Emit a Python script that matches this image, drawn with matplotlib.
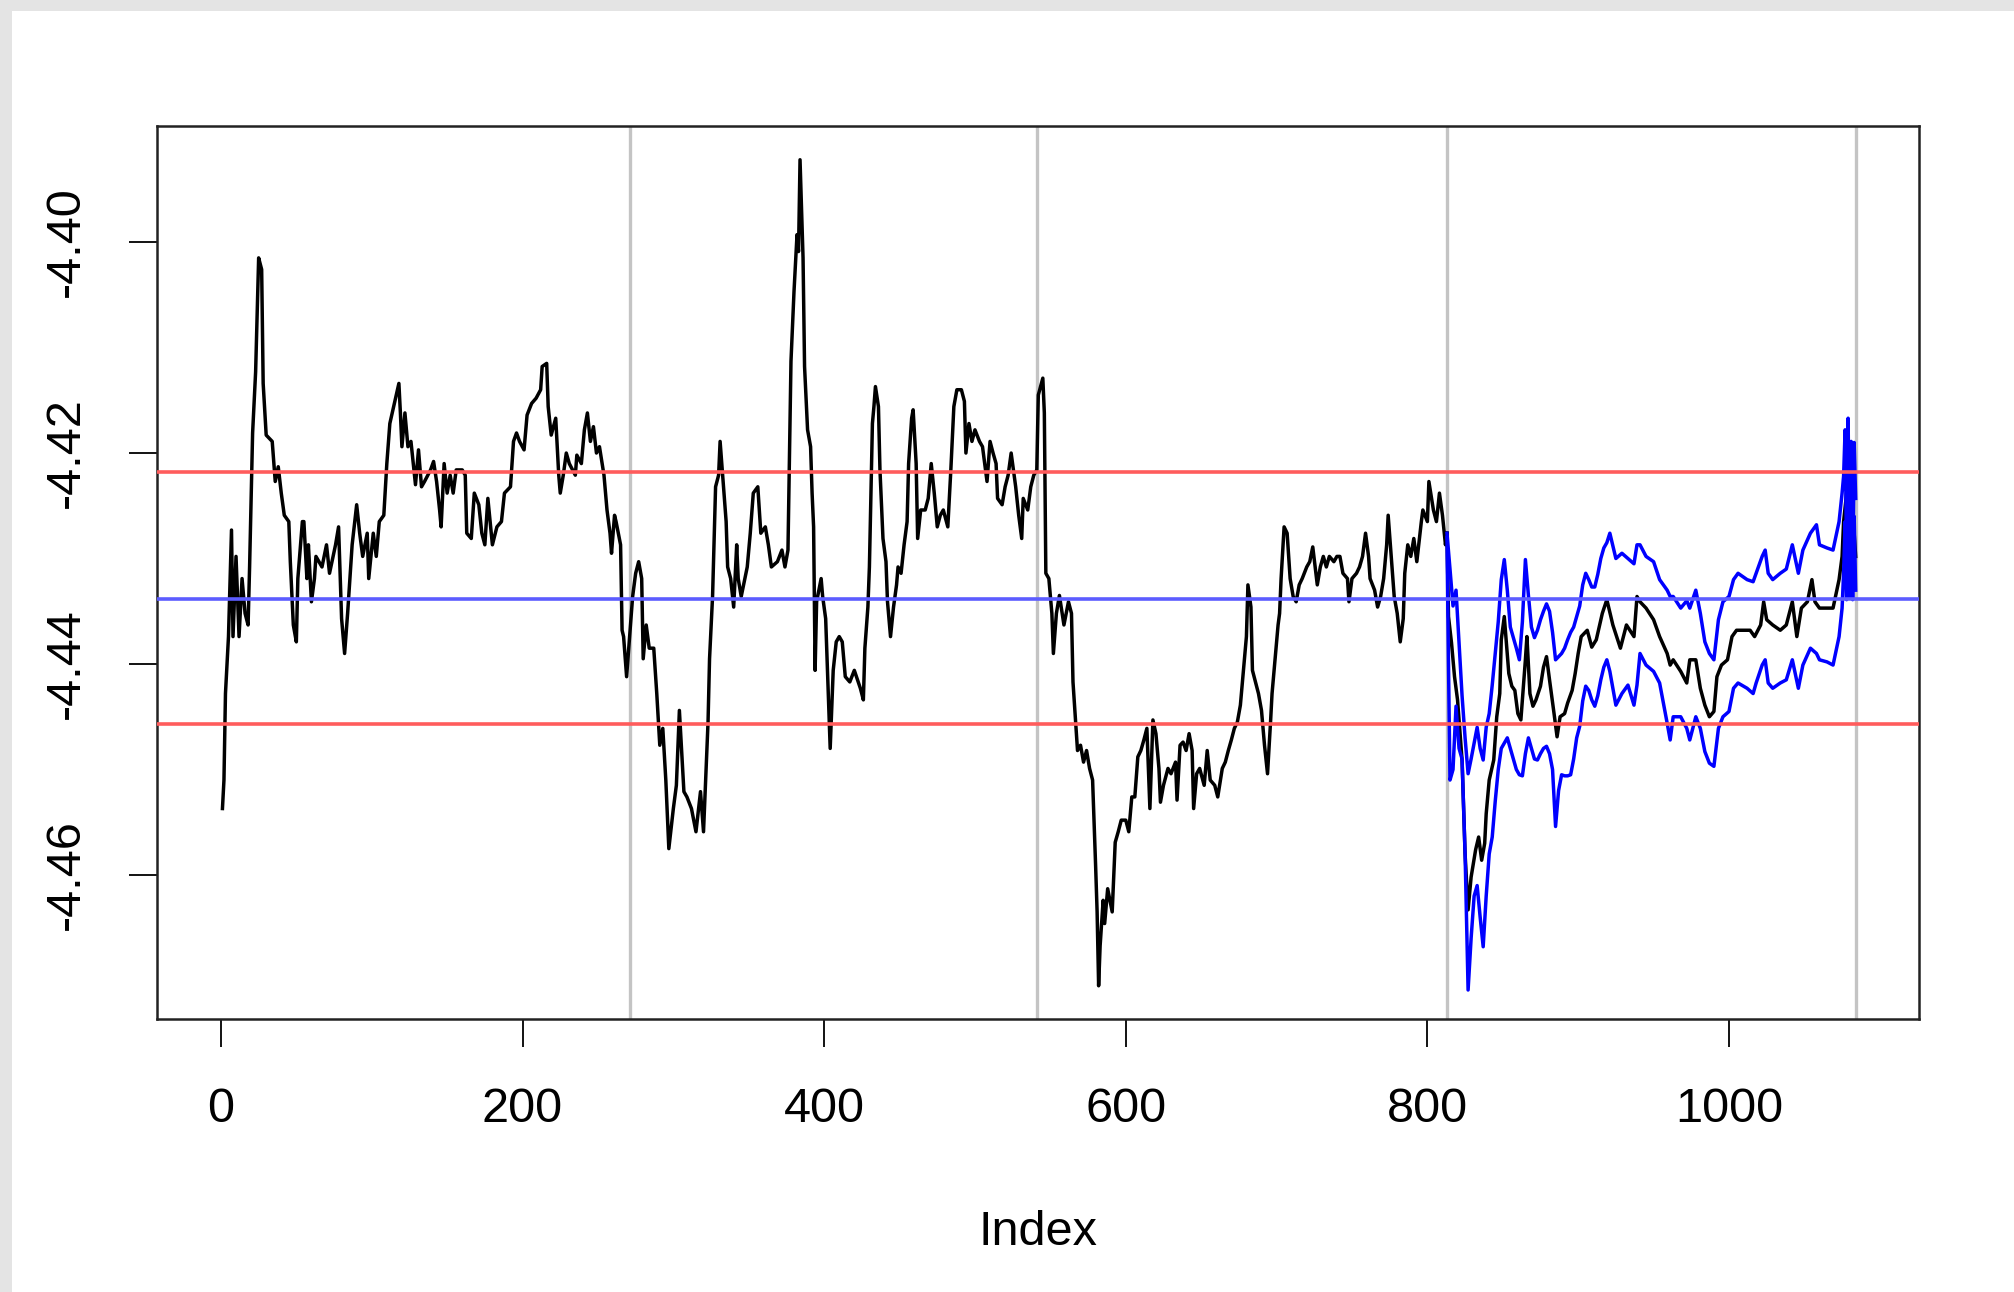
import numpy as np
import matplotlib
matplotlib.use("Agg")
import matplotlib.pyplot as plt
from matplotlib.patches import Rectangle

plt.rcParams['font.family'] = ['Liberation Sans', 'DejaVu Sans']
plt.rcParams['axes.unicode_minus'] = False

obs_points = [
    (1, -4.4537), (2, -4.4510), (3, -4.4428), (5, -4.4374), (7, -4.4273), (8, -4.4374),
    (10, -4.4298), (12, -4.4374), (14, -4.4319), (16, -4.4352), (18, -4.4363), (19, -4.4308),
    (21, -4.4181), (23, -4.4123), (25, -4.4015), (27, -4.4026), (28, -4.4134), (30, -4.4183),
    (34, -4.4189), (36, -4.4227), (38, -4.4213), (40, -4.4238), (42, -4.4259), (45, -4.4265),
    (46, -4.4303), (48, -4.4363), (50, -4.4379), (51, -4.4319), (54, -4.4265), (55, -4.4265),
    (57, -4.4319), (58, -4.4287), (60, -4.4341), (62, -4.4319), (63, -4.4298), (67, -4.4308),
    (70, -4.4287), (72, -4.4314), (76, -4.4287), (78, -4.4270), (80, -4.4357), (82, -4.4390),
    (84, -4.4352), (87, -4.4287), (90, -4.4249), (92, -4.4276), (94, -4.4298), (97, -4.4276),
    (98, -4.4319), (101, -4.4276), (103, -4.4298), (105, -4.4265), (108, -4.4259), (110, -4.4210),
    (112, -4.4172), (115, -4.4153), (118, -4.4134), (119, -4.4162), (120, -4.4194), (122, -4.4162),
    (124, -4.4194), (126, -4.4189), (129, -4.4230), (131, -4.4197), (133, -4.4232), (135, -4.4227),
    (139, -4.4216), (141, -4.4208), (143, -4.4227), (145, -4.4254), (146, -4.4270), (148, -4.4210),
    (150, -4.4238), (152, -4.4221), (154, -4.4238), (156, -4.4216), (160, -4.4216), (162, -4.4221),
    (163, -4.4276), (166, -4.4281), (168, -4.4238), (171, -4.4249), (173, -4.4276), (175, -4.4287),
    (177, -4.4243), (180, -4.4287), (183, -4.4270), (186, -4.4265), (188, -4.4238), (192, -4.4232),
    (194, -4.4189), (196, -4.4181), (198, -4.4189), (201, -4.4197), (203, -4.4164), (206, -4.4153),
    (209, -4.4148), (212, -4.4140), (213, -4.4118), (216, -4.4115), (217, -4.4156), (219, -4.4183),
    (222, -4.4167), (224, -4.4221), (225, -4.4238), (227, -4.4221), (229, -4.4200), (231, -4.4210),
    (235, -4.4221), (236, -4.4202), (239, -4.4210), (241, -4.4178), (243, -4.4162), (245, -4.4189),
    (247, -4.4175), (249, -4.4200), (251, -4.4194), (254, -4.4221), (256, -4.4254), (258, -4.4276),
    (259, -4.4295), (261, -4.4259), (262, -4.4265), (265, -4.4287), (266, -4.4368), (267, -4.4374),
    (269, -4.4412), (271, -4.4374), (273, -4.4336), (275, -4.4314), (277, -4.4303), (279, -4.4319),
    (280, -4.4395), (282, -4.4363), (284, -4.4385), (287, -4.4385), (289, -4.4428), (291, -4.4477),
    (293, -4.4461), (295, -4.4510), (297, -4.4575), (300, -4.4537), (302, -4.4515), (304, -4.4444),
    (307, -4.4521), (309, -4.4526), (312, -4.4537), (315, -4.4559), (318, -4.4521), (320, -4.4559),
    (322, -4.4488), (323, -4.4455), (324, -4.4395), (326, -4.4336), (328, -4.4232), (330, -4.4221),
    (331, -4.4189), (333, -4.4227), (335, -4.4265), (336, -4.4308), (338, -4.4319), (340, -4.4346),
    (342, -4.4287), (343, -4.4319), (345, -4.4336), (349, -4.4308), (351, -4.4276), (353, -4.4238),
    (356, -4.4232), (358, -4.4276), (361, -4.4270), (363, -4.4287), (365, -4.4308), (369, -4.4303),
    (372, -4.4292), (374, -4.4308), (376, -4.4292), (377, -4.4205), (378, -4.4113), (380, -4.4047),
    (382, -4.3993), (383, -4.4009), (384, -4.3922), (386, -4.4015), (387, -4.4118), (389, -4.4178),
    (391, -4.4194), (392, -4.4238), (393, -4.4270), (394, -4.4406), (395, -4.4341), (398, -4.4319),
    (399, -4.4336), (401, -4.4357), (403, -4.4439), (404, -4.4480), (405, -4.4444), (406, -4.4406),
    (408, -4.4379), (410, -4.4374), (412, -4.4379), (414, -4.4412), (417, -4.4417), (420, -4.4406),
    (424, -4.4423), (426, -4.4434), (427, -4.4385), (429, -4.4346), (430, -4.4308), (432, -4.4172),
    (433, -4.4156), (434, -4.4137), (436, -4.4156), (437, -4.4216), (439, -4.4281), (441, -4.4303),
    (442, -4.4341), (444, -4.4374), (446, -4.4346), (448, -4.4325), (449, -4.4308), (451, -4.4314),
    (453, -4.4287), (455, -4.4265), (456, -4.4210), (458, -4.4167), (459, -4.4159), (461, -4.4210),
    (462, -4.4281), (464, -4.4254), (467, -4.4254), (469, -4.4243), (471, -4.4210), (473, -4.4238),
    (475, -4.4270), (477, -4.4259), (479, -4.4254), (482, -4.4270), (484, -4.4216), (486, -4.4156),
    (488, -4.4140), (491, -4.4140), (493, -4.4151), (494, -4.4200), (496, -4.4172), (498, -4.4189),
    (500, -4.4178), (503, -4.4189), (505, -4.4194), (508, -4.4227), (510, -4.4189), (512, -4.4200),
    (514, -4.4210), (515, -4.4243), (518, -4.4249), (520, -4.4232), (522, -4.4221), (524, -4.4200),
    (527, -4.4232), (529, -4.4259), (531, -4.4281), (532, -4.4243), (535, -4.4254), (537, -4.4232),
    (539, -4.4221), (541, -4.4216), (542, -4.4145), (545, -4.4129), (546, -4.4162), (547, -4.4314),
    (549, -4.4319), (551, -4.4352), (552, -4.4390), (554, -4.4352), (556, -4.4335), (559, -4.4363),
    (562, -4.4341), (564, -4.4352), (565, -4.4417), (567, -4.4461), (568, -4.4482), (570, -4.4477),
    (572, -4.4493), (574, -4.4482), (576, -4.4499), (578, -4.4510), (580, -4.4591), (581, -4.4635),
    (582, -4.4705), (583, -4.4667), (585, -4.4624), (586, -4.4646), (588, -4.4613), (591, -4.4635),
    (593, -4.4569), (595, -4.4559), (597, -4.4548), (600, -4.4548), (602, -4.4559), (604, -4.4526),
    (606, -4.4526), (608, -4.4488), (610, -4.4482), (612, -4.4472), (614, -4.4461), (616, -4.4537),
    (618, -4.4453), (620, -4.4466), (622, -4.4499), (623, -4.4531), (625, -4.4515), (628, -4.4499),
    (630, -4.4504), (633, -4.4493), (634, -4.4529), (636, -4.4477), (638, -4.4474), (640, -4.4482),
    (642, -4.4466), (644, -4.4482), (645, -4.4537), (647, -4.4504), (649, -4.4499), (652, -4.4515),
    (654, -4.4482), (656, -4.4510), (659, -4.4515), (661, -4.4526), (664, -4.4499), (666, -4.4493),
    (668, -4.4482), (670, -4.4472), (672, -4.4461), (674, -4.4455), (676, -4.4439), (678, -4.4406),
    (680, -4.4374), (681, -4.4325), (683, -4.4346), (684, -4.4406), (686, -4.4417), (688, -4.4428),
    (690, -4.4444), (692, -4.4477), (694, -4.4504), (696, -4.4455), (697, -4.4428), (699, -4.4395),
    (701, -4.4363), (702, -4.4352), (703, -4.4319), (705, -4.4270), (707, -4.4276), (709, -4.4319),
    (711, -4.4336), (713, -4.4341), (715, -4.4325), (717, -4.4319), (720, -4.4308), (722, -4.4303),
    (724, -4.4289), (727, -4.4325), (729, -4.4308), (731, -4.4298), (733, -4.4308), (735, -4.4298),
    (738, -4.4303), (740, -4.4298), (742, -4.4298), (744, -4.4314), (747, -4.4319), (748, -4.4341),
    (750, -4.4319), (753, -4.4314), (755, -4.4308), (757, -4.4298), (759, -4.4276), (761, -4.4298),
    (762, -4.4319), (765, -4.4330), (767, -4.4346), (769, -4.4336), (771, -4.4319), (773, -4.4287),
    (774, -4.4259), (776, -4.4298), (778, -4.4336), (780, -4.4352), (782, -4.4379), (784, -4.4357),
    (785, -4.4314), (787, -4.4287), (789, -4.4298), (791, -4.4281), (793, -4.4303), (796, -4.4265),
    (797, -4.4254), (800, -4.4265), (801, -4.4227), (804, -4.4254), (806, -4.4265), (808, -4.4238),
    (810, -4.4259), (812, -4.4287), (813, -4.4276),
]

# pronostico (linea negra dentro de las bandas)
fc_points = [
    (813, -4.4276), (814, -4.4355), (816, -4.4380), (818, -4.4412), (820, -4.4434), (823, -4.4491),
    (825, -4.4580), (827, -4.4633), (829, -4.4602), (832, -4.4576), (834, -4.4564), (836, -4.4586),
    (838, -4.4570), (839, -4.4542), (841, -4.4510), (844, -4.4491), (846, -4.4450), (848, -4.4428),
    (849, -4.4377), (851, -4.4355), (854, -4.4409), (856, -4.4421), (858, -4.4425), (860, -4.4447),
    (862, -4.4453), (865, -4.4396), (866, -4.4374), (868, -4.4428), (870, -4.4440), (872, -4.4434),
    (875, -4.4421), (877, -4.4403), (879, -4.4393), (881, -4.4415), (884, -4.4447), (886, -4.4469),
    (888, -4.4450), (891, -4.4447), (893, -4.4437), (896, -4.4425), (898, -4.4409), (900, -4.4390),
    (902, -4.4374), (906, -4.4368), (909, -4.4384), (912, -4.4377), (916, -4.4352), (919, -4.4339),
    (923, -4.4363), (928, -4.4385), (932, -4.4363), (937, -4.4374), (939, -4.4336), (941, -4.4341),
    (945, -4.4347), (950, -4.4358), (954, -4.4374), (959, -4.4390), (961, -4.4401), (963, -4.4396),
    (968, -4.4407), (972, -4.4418), (974, -4.4396), (978, -4.4396), (981, -4.4423), (984, -4.4439),
    (987, -4.4450), (990, -4.4445), (992, -4.4412), (995, -4.4401), (999, -4.4396), (1002, -4.4374),
    (1005, -4.4368), (1010, -4.4368), (1014, -4.4368), (1017, -4.4374), (1021, -4.4363), (1023, -4.4341),
    (1025, -4.4358), (1029, -4.4363), (1034, -4.4368), (1038, -4.4363), (1042, -4.4341), (1045, -4.4374),
    (1048, -4.4347), (1052, -4.4341), (1055, -4.4320), (1057, -4.4341), (1060, -4.4347), (1065, -4.4347),
    (1069, -4.4347), (1073, -4.4320), (1075, -4.4298), (1076, -4.4265), (1078, -4.4238), (1080, -4.4250),
    (1082, -4.4254), (1083, -4.4276), (1084, -4.4298),
]

# banda superior (azul)
up_points = [
    (813, -4.4276), (815, -4.4310), (817, -4.4345), (819, -4.4330), (821, -4.4380), (823, -4.4430),
    (825, -4.4470), (827, -4.4504), (829, -4.4490), (831, -4.4475), (833, -4.4460), (835, -4.4480),
    (837, -4.4491), (839, -4.4460), (841, -4.4447), (843, -4.4420), (845, -4.4390), (847, -4.4360),
    (849, -4.4320), (851, -4.4301), (853, -4.4330), (855, -4.4365), (857, -4.4375), (859, -4.4385),
    (861, -4.4396), (863, -4.4360), (865, -4.4301), (867, -4.4335), (869, -4.4365), (871, -4.4375),
    (873, -4.4368), (875, -4.4358), (877, -4.4350), (879, -4.4343), (881, -4.4350), (883, -4.4370),
    (885, -4.4396), (887, -4.4393), (889, -4.4390), (891, -4.4385), (893, -4.4377), (895, -4.4370),
    (897, -4.4365), (899, -4.4355), (901, -4.4345), (903, -4.4325), (905, -4.4314), (907, -4.4320),
    (909, -4.4327), (911, -4.4327), (913, -4.4315), (915, -4.4300), (917, -4.4290), (919, -4.4285),
    (921, -4.4276), (925, -4.4300), (929, -4.4295), (933, -4.4300), (937, -4.4305), (939, -4.4287),
    (941, -4.4287), (945, -4.4298), (950, -4.4303), (954, -4.4320), (959, -4.4330), (961, -4.4336),
    (963, -4.4336), (968, -4.4347), (972, -4.4340), (974, -4.4347), (978, -4.4330), (981, -4.4352),
    (984, -4.4379), (987, -4.4390), (990, -4.4396), (993, -4.4358), (996, -4.4341), (1000, -4.4336),
    (1003, -4.4320), (1006, -4.4314), (1012, -4.4320), (1016, -4.4322), (1018, -4.4314), (1022, -4.4298),
    (1024, -4.4292), (1026, -4.4314), (1029, -4.4320), (1034, -4.4314), (1038, -4.4310), (1042, -4.4287),
    (1046, -4.4314), (1049, -4.4292), (1054, -4.4276), (1058, -4.4268), (1060, -4.4287), (1065, -4.4290),
    (1069, -4.4292), (1073, -4.4265), (1075, -4.4238), (1076, -4.4222), (1077, -4.4178), (1078, -4.4300),
    (1079, -4.4167), (1080, -4.4320), (1081, -4.4189), (1082, -4.4330), (1083, -4.4190), (1084, -4.4243),
]

# banda inferior (azul)
lo_points = [
    (813, -4.4280), (814, -4.4400), (815, -4.4510), (817, -4.4500), (819, -4.4440), (821, -4.4480),
    (823, -4.4490), (825, -4.4580), (827, -4.4709), (829, -4.4660), (831, -4.4620), (833, -4.4610),
    (835, -4.4640), (837, -4.4668), (839, -4.4620), (841, -4.4580), (843, -4.4564), (845, -4.4530),
    (847, -4.4500), (849, -4.4480), (851, -4.4475), (853, -4.4470), (855, -4.4480), (857, -4.4490),
    (859, -4.4500), (861, -4.4505), (863, -4.4506), (865, -4.4485), (867, -4.4470), (869, -4.4480),
    (871, -4.4490), (873, -4.4491), (875, -4.4485), (877, -4.4480), (879, -4.4478), (881, -4.4485),
    (883, -4.4500), (885, -4.4554), (887, -4.4520), (889, -4.4505), (891, -4.4506), (893, -4.4506),
    (895, -4.4505), (897, -4.4490), (899, -4.4470), (901, -4.4459), (903, -4.4435), (905, -4.4421),
    (907, -4.4425), (909, -4.4434), (911, -4.4440), (913, -4.4430), (915, -4.4415), (917, -4.4403),
    (919, -4.4396), (921, -4.4407), (925, -4.4439), (929, -4.4428), (933, -4.4420), (937, -4.4439),
    (939, -4.4420), (941, -4.4390), (945, -4.4401), (950, -4.4407), (954, -4.4418), (959, -4.4456),
    (961, -4.4472), (963, -4.4450), (968, -4.4450), (972, -4.4461), (974, -4.4472), (978, -4.4450),
    (981, -4.4461), (984, -4.4483), (987, -4.4494), (990, -4.4497), (993, -4.4461), (996, -4.4450),
    (1000, -4.4445), (1003, -4.4423), (1006, -4.4418), (1012, -4.4423), (1016, -4.4428), (1018, -4.4418),
    (1022, -4.4401), (1024, -4.4396), (1026, -4.4418), (1029, -4.4423), (1034, -4.4418), (1038, -4.4415),
    (1042, -4.4396), (1046, -4.4423), (1049, -4.4401), (1054, -4.4385), (1058, -4.4390), (1060, -4.4396),
    (1065, -4.4398), (1069, -4.4401), (1073, -4.4374), (1075, -4.4347), (1076, -4.4314), (1077, -4.4265),
    (1078, -4.4339), (1079, -4.4200), (1080, -4.4336), (1081, -4.4220), (1082, -4.4339), (1083, -4.4260),
    (1084, -4.4330),
]

media = -4.4338
limite_sup = -4.4218
limite_inf = -4.4457
cortes = [271, 541, 813, 1084]

xticks = [0, 200, 400, 600, 800, 1000]
yticks = [-4.46, -4.44, -4.42, -4.40]
ytick_labels = ['-4.46', '-4.44', '-4.42', '-4.40']

obs_idx, obs_val = np.array(obs_points).T
fc_idx, fc_val = np.array(fc_points).T
up_idx, up_val = np.array(up_points).T
lo_idx, lo_val = np.array(lo_points).T

W, H = 2014, 1292
fig = plt.figure(figsize=(W / 100, H / 100), dpi=100)
fig.patch.set_facecolor('#e4e4e4')
fig.patches.append(Rectangle((12 / W, 0), 1 - 12 / W, 1 - 11 / H, transform=fig.transFigure,
                             facecolor='white', edgecolor='none', zorder=-10))

ax = fig.add_axes([157 / W, (H - 1019) / H, (1919 - 157) / W, (1019 - 126) / H])
ax.set_zorder(5)
ax.set_facecolor('white')

for v in cortes:
    ax.axvline(v, color='#c4c4c4', lw=2.4, zorder=1)

ax.plot(obs_idx, obs_val, color='black', lw=2.5, zorder=2)
ax.plot(fc_idx, fc_val, color='black', lw=2.5, zorder=2)
ax.plot(up_idx, up_val, color='#0000ff', lw=2.5, zorder=3)
ax.plot(lo_idx, lo_val, color='#0000ff', lw=2.5, zorder=3)

ax.axhline(limite_sup, color='#ff5c5c', lw=2.6, zorder=4)
ax.axhline(limite_inf, color='#ff5c5c', lw=2.6, zorder=4)
ax.axhline(media, color='#5c5cff', lw=2.6, zorder=4)

ax.set_xlim(-42.4, 1126.0)
ax.set_ylim(-4.47365, -4.38900)

ax.set_xticks(xticks)
ax.set_xticklabels([str(t) for t in xticks])
ax.set_yticks(yticks)
ax.set_yticklabels(ytick_labels, rotation=90, va='center', ha='right')

ax.tick_params(axis='both', direction='out', length=20, width=1.3, pad=29,
               labelsize=35, colors='black')
for s in ax.spines.values():
    s.set_linewidth(1.8)
    s.set_color('#222222')

fig.text(1038 / W, (H - 1245) / H, 'Index', ha='center', va='baseline', fontsize=35)

fig.savefig('out.png', dpi=100, facecolor=fig.get_facecolor())
